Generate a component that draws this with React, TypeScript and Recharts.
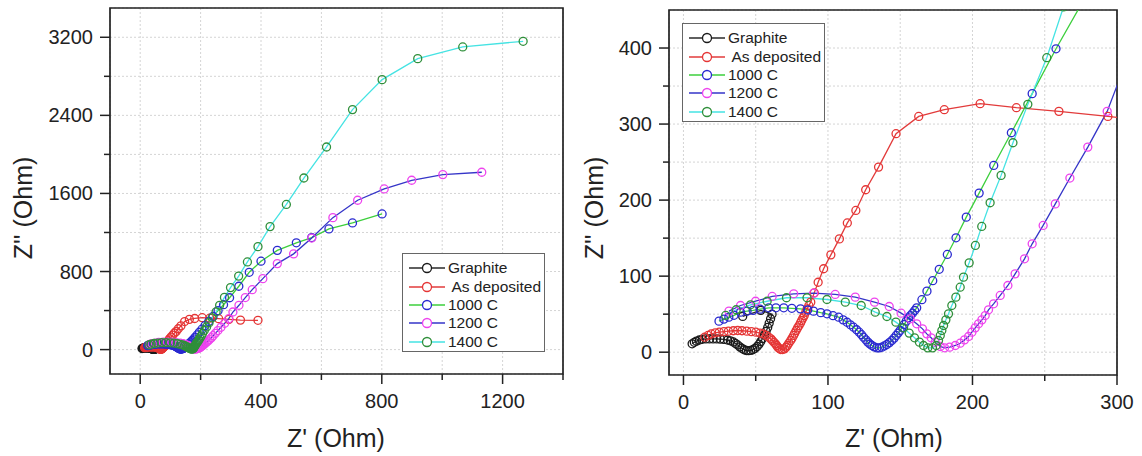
import React from "react";
import { CartesianGrid, Legend, Line, LineChart, ReferenceArea, XAxis, YAxis } from "recharts";

// Z' / Z'' pairs (Ohm)
const graphite = [
  [6, 11], [7.5, 13], [9, 14.5], [11, 16], [13, 17], [15.5, 17.5], [18, 17.5], [20.5, 17.5],
  [23, 17.5], [25.5, 17.2], [28, 16.8], [30.5, 16], [32.5, 15], [34.5, 13.5], [36, 11.5],
  [37.5, 9.5], [39, 7], [40.5, 5], [42, 3.2], [43.5, 2.2], [45, 2], [46.5, 2.3], [48, 3.2],
  [49.5, 5], [51, 7.5], [52.3, 10.5], [53.5, 14], [54.7, 18], [56, 22.5], [57.2, 27.5],
  [58.3, 32.5], [59.3, 38], [60.3, 44], [61.3, 50], [53.5, 55], [41, 47],
];

const asDeposited = [
  [14.7, 19.7], [17, 22], [19.2, 24], [22, 25.5], [24.8, 26.3], [28, 27], [31.1, 27.6],
  [34.5, 28.2], [37.5, 28.5], [40.5, 28.2], [43.8, 27.6], [47, 27], [50.1, 26.3], [53, 25],
  [55.2, 24], [57.3, 22], [59, 19.7], [60.5, 17.5], [61.5, 15.4], [62.6, 13], [63.6, 11],
  [64.5, 8.8], [65.3, 6.6], [66.3, 5], [67.3, 3.5], [68.6, 3.5], [69.9, 4.4], [71, 6.5],
  [71.9, 8.8], [73, 12], [74.2, 15.4], [75.2, 18.5], [76.2, 22], [77, 25], [78, 28.5],
  [79, 32], [80, 35], [81, 38.5], [81.8, 41.7], [82.7, 45], [83.6, 48.2], [84.6, 52.5],
  [85.6, 57], [86.8, 61.5], [88.1, 65.8], [90.5, 78], [93.2, 92], [97, 109.7], [102, 128],
  [107.9, 149], [113.4, 170], [119.3, 186.4], [126.1, 213.6], [135, 243.4], [147.1, 287.3],
  [162.8, 310], [180.5, 318.9], [205.3, 326.8], [230.4, 321.5], [259.8, 316.7], [293.7, 310],
  [332, 302], [390, 300],
];

const c1000 = [
  [24.6, 40.8], [28, 43.5], [31.4, 46], [35, 48.5], [39.5, 52.6], [44, 54], [48.2, 55],
  [53, 56.5], [59, 58.4], [64, 58.4], [69.4, 58.4], [75, 57.7], [81, 57], [86, 55.5], [90, 54],
  [95, 52], [99.3, 50.5], [103.5, 48], [107.4, 46], [110.5, 42.5], [113.2, 39.4], [115.5, 36],
  [117.7, 32.9], [119.8, 29.5], [121.6, 26.3], [123.2, 23], [124.6, 19.7], [126.2, 16.3],
  [127.6, 13.2], [129, 10.8], [130.4, 8.8], [132, 7], [133.9, 5.7], [135.6, 5.7], [137.3, 6.6],
  [139, 8.2], [140.8, 10.1], [142.5, 12.6], [144.2, 15.4], [145.8, 18.5], [147.2, 22],
  [148.6, 25.2], [149.9, 28.5], [151.3, 32.4], [152.7, 36.4], [154.2, 40.8], [155.7, 45.2],
  [157.1, 48.2], [158.5, 51.3], [160, 54.8], [161.4, 58.3], [165, 69], [168.5, 80.3],
  [172.5, 94], [177, 109], [182.6, 128.5], [188.6, 150.4], [195.7, 177.6], [204.6, 209.2],
  [214.7, 245.6], [226.9, 288.6], [241.3, 340], [257.8, 399], [276, 460], [296, 531],
  [326.6, 649], [361, 792], [400, 906], [454, 1017], [517, 1094], [568, 1148], [625, 1236],
  [703, 1298], [801, 1390],
];

const c1200 = [
  [31.5, 54], [39.5, 61.4], [49.9, 67], [61.4, 73.3], [76.3, 76.8], [90.1, 77.6], [105, 75.9],
  [118.9, 72.4], [132.2, 65.8], [142.4, 60.1], [150.6, 51.3], [156.9, 43.9], [161.4, 37.3],
  [165.4, 30.7], [168.4, 24.1], [171.4, 18.9], [174.2, 13.2], [177.7, 7.5], [180.7, 5.8],
  [184.2, 6.6], [188.1, 8.8], [191.5, 11.8], [194.5, 16.2], [197.3, 20.6], [199.6, 26.3],
  [201.9, 32], [204.2, 37.3], [206.5, 42.5], [208.8, 48.2], [211.1, 55.7], [214.6, 63.6],
  [219.2, 74.6], [224.5, 87.7], [229.5, 103], [236, 122.8], [241.3, 142.5], [248.9, 166.7],
  [257.3, 195], [267.4, 229], [279.8, 269.7], [293.2, 316.7], [307, 385], [327, 454],
  [348, 533], [371, 614], [406, 727], [454, 881], [508, 981], [568, 1143], [638, 1352],
  [720, 1530], [808, 1646], [899, 1735], [1002, 1793], [1131, 1817],
];

const c1400 = [
  [29.2, 48.3], [36.5, 55.8], [46.4, 62.3], [57.9, 67], [71.3, 71.6], [85.5, 71.6], [99.3, 69.3],
  [112, 65.8], [123, 61.4], [132.7, 52.6], [140.8, 46.9], [147, 39.5], [152.3, 32.1],
  [156.2, 25.1], [159.9, 18.9], [163.3, 13.2], [166.1, 8.8], [169.1, 5.7], [172.3, 5.7],
  [174.9, 8.8], [176.5, 15.4], [177.7, 22], [178.8, 28.5], [180, 35.1], [181.6, 42.5],
  [183.4, 50.4], [185.7, 61.4], [188.5, 72.4], [191.5, 85.5], [193.8, 98.7], [197.7, 117.5],
  [202, 140.4], [206.4, 165.4], [212.2, 196.5], [219.8, 232.5], [228, 275.4], [238.3, 325.9],
  [251.4, 387.3], [263, 454], [279, 535], [299, 635], [326, 753], [355, 898], [390, 1055],
  [430, 1260], [484, 1487], [542, 1758], [617, 2076], [703, 2459], [801, 2766], [919, 2981],
  [1068, 3101], [1268, 3159],
];

const seriesNames = ["Graphite", " As deposited", "1000 C", "1200 C", "1400 C"];
const seriesData = [graphite, asDeposited, c1000, c1200, c1400];
const lineColors = ["#2a2a2a", "#e23b3b", "#3ccf3c", "#3535c8", "#45e3e3"];
const markerColors = ["#1a1a1a", "#e53535", "#2a2ad0", "#ee44ee", "#2f8f3a"];

const leftXTicks = [0, 200, 400, 600, 800, 1000, 1200, 1400];
const leftXMajor = [0, 400, 800, 1200];
const leftYTicks = [0, 400, 800, 1200, 1600, 2000, 2400, 2800, 3200];
const leftYMajor = [0, 800, 1600, 2400, 3200];
const rightXTicks = [0, 50, 100, 150, 200, 250, 300];
const rightXMajor = [0, 100, 200, 300];
const rightYTicks = [0, 50, 100, 150, 200, 250, 300, 350, 400];
const rightYMajor = [0, 100, 200, 300, 400];

const series = seriesNames.map((name, i) => ({
  name,
  data: seriesData[i].map(([x, y]) => ({ x, y })),
  line: lineColors[i],
  marker: markerColors[i],
}));

const FONT = "Arial, 'Liberation Sans', sans-serif";
const INK = "#222";

const XTick = (props: any) => {
  const { x, y, payload, major } = props;
  const isMajor = major.includes(payload.value);
  return (
    <g>
      <line x1={x} x2={x} y1={y} y2={y + (isMajor ? 10 : 6)} stroke={INK} strokeWidth={1.5} />
      {isMajor && (
        <text x={x} y={y + 34} textAnchor="middle" fontSize={20} fill={INK} fontFamily={FONT}>
          {payload.value}
        </text>
      )}
    </g>
  );
};

const YTick = (props: any) => {
  const { x, y, payload, major } = props;
  const isMajor = major.includes(payload.value);
  return (
    <g>
      <line x1={x - (isMajor ? 10 : 6)} x2={x} y1={y} y2={y} stroke={INK} strokeWidth={1.5} />
      {isMajor && (
        <text x={x - 17} y={y + 7} textAnchor="end" fontSize={20} fill={INK} fontFamily={FONT}>
          {payload.value}
        </text>
      )}
    </g>
  );
};

const LegendBox = () => (
  <div
    style={{
      border: "1px solid #666",
      background: "#fff",
      boxSizing: "border-box",
      width: "100%",
      height: "100%",
      padding: "5px 0 0 6px",
      fontFamily: FONT,
    }}
  >
    {series.map((s) => (
      <div key={s.name} style={{ display: "flex", alignItems: "center", height: 18.4 }}>
        <svg width={36} height={12}>
          <line x1={0} x2={36} y1={6} y2={6} stroke={s.line} strokeWidth={1.3} />
          <circle cx={18} cy={6} r={4.5} fill="#fff" stroke={s.marker} strokeWidth={1.3} />
        </svg>
        <span style={{ marginLeft: 3, fontSize: 15.5, color: INK, whiteSpace: "pre" }}>{s.name}</span>
      </div>
    ))}
  </div>
);

type PanelProps = {
  left: number;
  width: number;
  margin: { top: number; right: number; bottom: number; left: number };
  yAxisWidth: number;
  xDomain: [number, number];
  yDomain: [number, number];
  xTicks: number[];
  xMajor: number[];
  yTicks: number[];
  yMajor: number[];
  legendPos: { left: number; top: number };
  xTitleLeft: number;
  yTitleLeft: number;
};

const Panel = (p: PanelProps) => (
  <div style={{ position: "absolute", left: p.left, top: 0, width: p.width, height: 456 }}>
    <LineChart width={p.width} height={456} margin={p.margin}>
      <CartesianGrid stroke="#d4d4d4" strokeDasharray="2 2" />
      <XAxis
        type="number"
        dataKey="x"
        domain={p.xDomain}
        allowDataOverflow
        ticks={p.xTicks}
        interval={0}
        height={40}
        axisLine={false}
        tickLine={false}
        tickSize={0}
        tickMargin={0}
        tick={<XTick major={p.xMajor} />}
      />
      <YAxis
        type="number"
        dataKey="y"
        domain={p.yDomain}
        allowDataOverflow
        ticks={p.yTicks}
        interval={0}
        width={p.yAxisWidth}
        axisLine={false}
        tickLine={false}
        tickSize={0}
        tickMargin={0}
        tick={<YTick major={p.yMajor} />}
      />
      {series.map((s) => (
        <Line
          key={s.name}
          data={s.data}
          dataKey="y"
          name={s.name}
          type="linear"
          stroke={s.line}
          strokeWidth={1.3}
          dot={{ r: 4, stroke: s.marker, strokeWidth: 1.3, fill: "none" }}
          activeDot={false}
          isAnimationActive={false}
        />
      ))}
      <ReferenceArea
        x1={p.xDomain[0]}
        x2={p.xDomain[1]}
        y1={p.yDomain[0]}
        y2={p.yDomain[1]}
        fill="none"
        fillOpacity={0}
        stroke={INK}
        strokeWidth={1.7}
        ifOverflow="visible"
      />
      <Legend
        layout="horizontal"
        verticalAlign="middle"
        align="center"
        content={() => <LegendBox />}
        wrapperStyle={{ left: p.legendPos.left, top: p.legendPos.top, width: 143, height: 99 }}
      />
    </LineChart>
    <div
      style={{
        position: "absolute",
        left: p.xTitleLeft - 100,
        width: 200,
        top: 424,
        textAlign: "center",
        fontSize: 25,
        fontFamily: FONT,
        color: INK,
      }}
    >
      Z' (Ohm)
    </div>
    <div
      style={{
        position: "absolute",
        left: p.yTitleLeft - 100,
        top: 208 - 15,
        width: 200,
        height: 30,
        lineHeight: "30px",
        textAlign: "center",
        transform: "rotate(-90deg)",
        fontSize: 25,
        fontFamily: FONT,
        color: INK,
      }}
    >
      Z'' (Ohm)
    </div>
  </div>
);

export default function App() {
  return (
    <div style={{ position: "absolute", left: 0, top: 0, width: 1142, height: 456, background: "#fff" }}>
      <Panel
        left={0}
        width={570}
        margin={{ top: 8, right: 7, bottom: 42, left: 50 }}
        yAxisWidth={60}
        xDomain={[-100, 1400]}
        yDomain={[-250, 3500]}
        xTicks={leftXTicks}
        xMajor={leftXMajor}
        yTicks={leftYTicks}
        yMajor={leftYMajor}
        legendPos={{ left: 402, top: 253 }}
        xTitleLeft={336}
        yTitleLeft={23}
      />
      <Panel
        left={570}
        width={572}
        margin={{ top: 10, right: 25, bottom: 41, left: 49 }}
        yAxisWidth={50}
        xDomain={[-10, 300]}
        yDomain={[-30, 450]}
        xTicks={rightXTicks}
        xMajor={rightXMajor}
        yTicks={rightYTicks}
        yMajor={rightYMajor}
        legendPos={{ left: 112, top: 23 }}
        xTitleLeft={324}
        yTitleLeft={24}
      />
    </div>
  );
}
